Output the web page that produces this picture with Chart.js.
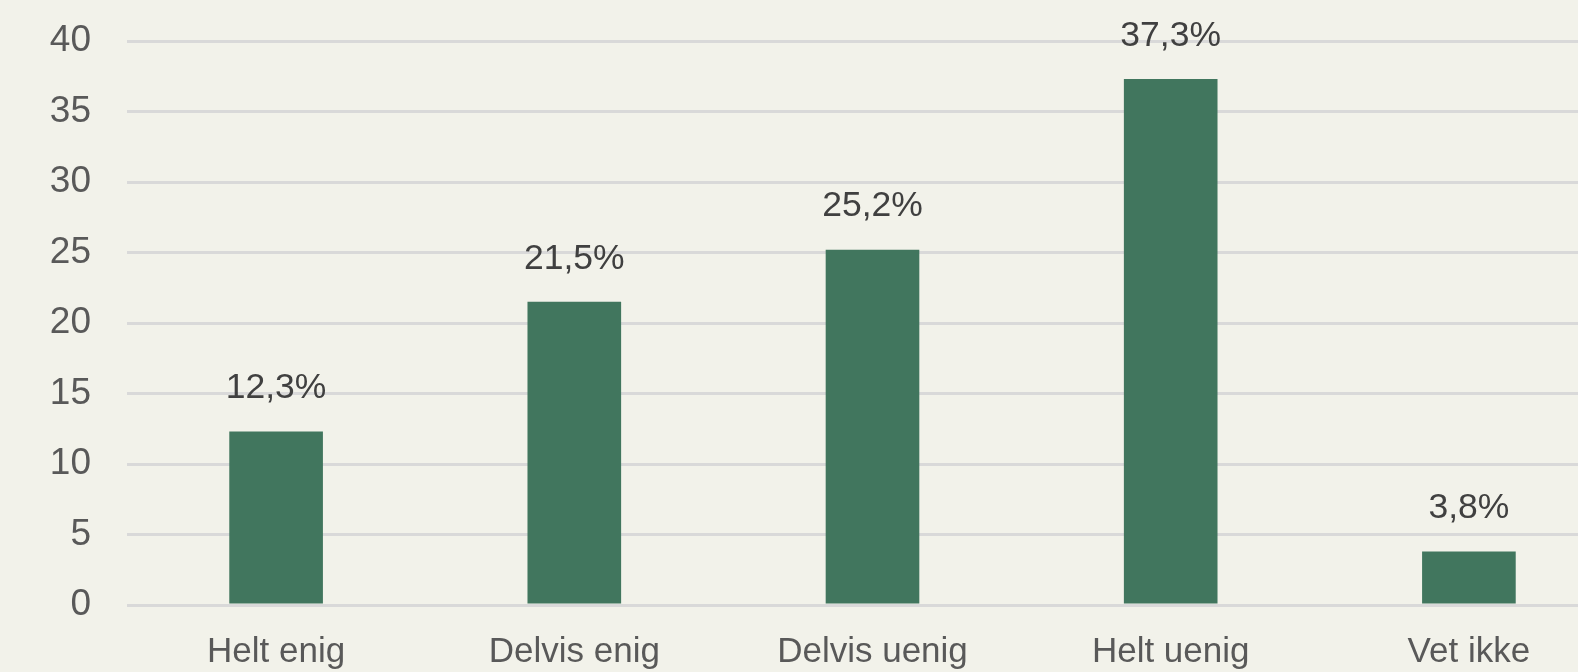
<!DOCTYPE html>
<html>
<head>
<meta charset="utf-8">
<script src="https://cdn.jsdelivr.net/npm/chart.js@4"></script>
<style>
  html, body { margin: 0; padding: 0; background: #F2F2EA; overflow: hidden; }
  #wrap { width: 1618px; height: 672px; position: relative; }
</style>
</head>
<body>
<div id="wrap"><canvas id="chart"></canvas></div>
<script>
const categories = ["Helt enig", "Delvis enig", "Delvis uenig", "Helt uenig", "Vet ikke"]
const shares = [12.3, 21.5, 25.2, 37.3, 3.8]
const yTicks = [0, 5, 10, 15, 20, 25, 30, 35, 40]

// draws the "12,3%" labels above each bar
const barLabels = {
  id: 'barLabels',
  afterDatasetsDraw(chart) {
    const ctx = chart.ctx
    const meta = chart.getDatasetMeta(0)
    ctx.save()
    ctx.font = '35.5px "Liberation Sans", Arial, sans-serif'
    ctx.fillStyle = '#404040'
    ctx.textAlign = 'center'
    ctx.textBaseline = 'middle'
    meta.data.forEach((bar, i) => {
      const txt = shares[i].toFixed(1).replace('.', ',') + '%'
      ctx.fillText(txt, bar.x, bar.y - 43)
    })
    ctx.restore()
  }
}

new Chart(document.getElementById('chart'), {
  type: 'bar',
  data: {
    labels: categories,
    datasets: [{
      label: 'Andel',
      data: shares,
      backgroundColor: '#41765E',
      categoryPercentage: 1,
      barPercentage: 0.314
    }]
  },
  options: {
    responsive: true,
    maintainAspectRatio: false,
    animation: false,
    layout: { padding: { top: 41, left: 0, right: 0, bottom: 0 } },
    plugins: {
      legend: { display: false },
      tooltip: { enabled: false }
    },
    scales: {
      x: {
        grid: { display: false },
        border: { display: false },
        ticks: {
          color: '#595959',
          padding: 18,
          maxRotation: 0,
          font: { family: '"Liberation Sans", Arial, sans-serif', size: 35 }
        },
        afterFit(scale) { scale.height = 67 }
      },
      y: {
        min: 0,
        max: 40,
        afterBuildTicks(scale) { scale.ticks = yTicks.map(v => ({ value: v })) },
        grid: { color: '#D9D9D9', lineWidth: 3, drawTicks: false },
        border: { display: false },
        ticks: {
          color: '#595959',
          padding: 36,
          font: { family: '"Liberation Sans", Arial, sans-serif', size: 37 }
        },
        afterFit(scale) {
          scale.width = 127
          // tick padding would otherwise push the plot area down
          scale.paddingTop = 20
          scale.paddingBottom = 20
        }
      }
    }
  },
  plugins: [barLabels]
})
</script>
</body>
</html>
